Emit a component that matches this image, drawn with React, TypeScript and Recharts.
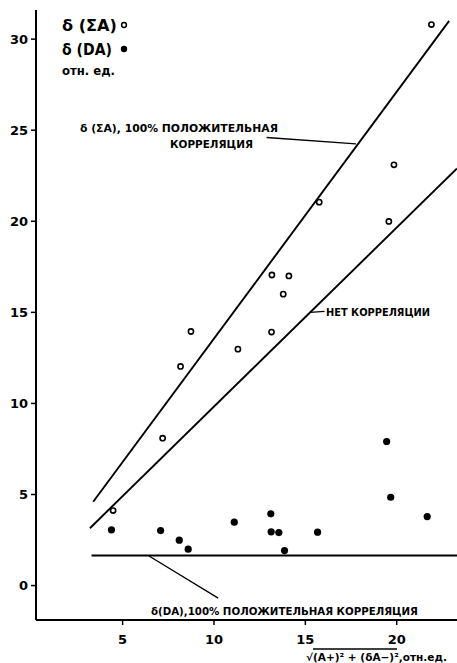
import { ComposedChart, Scatter, XAxis, YAxis, ReferenceLine } from 'recharts';

// δ(ΣA), hollow points
const sumA = [
  { x: 4.48, y: 4.12 },
  { x: 7.19, y: 8.09 },
  { x: 8.17, y: 12.03 },
  { x: 8.74, y: 13.95 },
  { x: 11.31, y: 12.98 },
  { x: 13.15, y: 13.92 },
  { x: 13.17, y: 17.05 },
  { x: 13.79, y: 16.0 },
  { x: 14.1, y: 17.0 },
  { x: 15.76, y: 21.05 },
  { x: 19.57, y: 19.99 },
  { x: 19.85, y: 23.1 },
  { x: 21.9, y: 30.8 },
];

// δ(DA), filled points
const dA = [
  { x: 4.39, y: 3.06 },
  { x: 7.08, y: 3.02 },
  { x: 8.1, y: 2.49 },
  { x: 8.59, y: 2.0 },
  { x: 11.11, y: 3.48 },
  { x: 13.11, y: 3.94 },
  { x: 13.13, y: 2.95 },
  { x: 13.55, y: 2.91 },
  { x: 13.86, y: 1.92 },
  { x: 15.67, y: 2.93 },
  { x: 19.45, y: 7.91 },
  { x: 19.67, y: 4.85 },
  { x: 21.67, y: 3.79 },
];

// reference lines
const sumAFullCorr = [{ x: 3.39, y: 4.6 }, { x: 22.87, y: 31.0 }];
const noCorr = [{ x: 3.21, y: 3.15 }, { x: 23.3, y: 22.9 }];
const dAFullCorr = [{ x: 3.3, y: 1.65 }, { x: 23.3, y: 1.65 }];

// leaders from labels to lines
const sumALeader = [{ x: 12.88, y: 24.6 }, { x: 17.77, y: 24.25 }];
const noCorrLeader = [{ x: 15.25, y: 15.0 }, { x: 16.05, y: 15.05 }];
const dALeader = [{ x: 6.4, y: 1.65 }, { x: 10.23, y: -0.69 }];

const xTicks = [5, 10, 15, 20];
const yTicks = [0, 5, 10, 15, 20, 25, 30];

const font = 'DejaVu Sans, sans-serif';

const Hollow = (props: any) => (
  <circle cx={props.cx} cy={props.cy} r={2.6} fill="#fff" stroke="#000" strokeWidth={1.6} />
);
const Filled = (props: any) => <circle cx={props.cx} cy={props.cy} r={3.6} fill="#000" />;

export default function App() {
  const tick = { fontSize: 13, fontFamily: font, fontWeight: 700, fill: '#000' };
  const lbl = { fontFamily: font, fontWeight: 700, fill: '#000' };

  return (
    <div style={{ position: 'absolute', left: 0, top: 0, width: 457, height: 663, background: '#fff' }}>
      <ComposedChart width={457} height={663} margin={{ top: 10, right: 0, bottom: 0, left: 0 }}>
        <XAxis
          type="number"
          dataKey="x"
          domain={[0.26, 23.3]}
          allowDataOverflow
          ticks={xTicks}
          height={43}
          tickSize={5}
          tickMargin={10}
          tick={tick}
          axisLine={{ stroke: '#000', strokeWidth: 2 }}
          tickLine={{ stroke: '#000', strokeWidth: 1.5 }}
        />
        <YAxis
          type="number"
          dataKey="y"
          domain={[-1.89, 31.6]}
          allowDataOverflow
          ticks={yTicks}
          width={36}
          tickSize={5}
          tickMargin={3}
          tick={tick}
          axisLine={{ stroke: '#000', strokeWidth: 2 }}
          tickLine={{ stroke: '#000', strokeWidth: 1.5 }}
        />
        <ReferenceLine segment={sumAFullCorr} stroke="#000" strokeWidth={1.9} ifOverflow="visible" />
        <ReferenceLine segment={noCorr} stroke="#000" strokeWidth={1.9} ifOverflow="visible" />
        <ReferenceLine segment={dAFullCorr} stroke="#000" strokeWidth={1.9} ifOverflow="visible" />
        <ReferenceLine segment={sumALeader} stroke="#000" strokeWidth={1.3} ifOverflow="visible" />
        <ReferenceLine segment={noCorrLeader} stroke="#000" strokeWidth={1.3} ifOverflow="visible" />
        <ReferenceLine segment={dALeader} stroke="#000" strokeWidth={1.3} ifOverflow="visible" />
        <Scatter data={sumA} shape={Hollow} isAnimationActive={false} />
        <Scatter data={dA} shape={Filled} isAnimationActive={false} />
      </ComposedChart>
      <svg width={457} height={663} style={{ position: 'absolute', left: 0, top: 0, pointerEvents: 'none' }}>
        {/* legend */}
        <text x={62} y={31} fontSize={15} {...lbl} textLength={55} lengthAdjust="spacingAndGlyphs">δ (ΣA)</text>
        <circle cx={124} cy={25} r={2.4} fill="#fff" stroke="#000" strokeWidth={1.5} />
        <text x={62} y={55} fontSize={15} {...lbl} textLength={50} lengthAdjust="spacingAndGlyphs">δ (DA)</text>
        <circle cx={124} cy={49} r={3.2} fill="#000" />
        <text x={62} y={75} fontSize={12} {...lbl} textLength={53} lengthAdjust="spacingAndGlyphs">отн. ед.</text>
        {/* annotations */}
        <text x={80} y={132} fontSize={10} {...lbl} textLength={198} lengthAdjust="spacingAndGlyphs">δ (ΣA), 100% ПОЛОЖИТЕЛЬНАЯ</text>
        <text x={170} y={148} fontSize={10} {...lbl} textLength={83} lengthAdjust="spacingAndGlyphs">КОРРЕЛЯЦИЯ</text>
        <text x={326} y={315.5} fontSize={10} {...lbl} textLength={104} lengthAdjust="spacingAndGlyphs">НЕТ КОРРЕЛЯЦИИ</text>
        <text x={151} y={614.5} fontSize={10} {...lbl} textLength={267} lengthAdjust="spacingAndGlyphs">δ(DA),100% ПОЛОЖИТЕЛЬНАЯ КОРРЕЛЯЦИЯ</text>
        {/* x axis title */}
        <line x1={313} y1={649} x2={397} y2={649} stroke="#000" strokeWidth={1.3} />
        <text x={306} y={661} fontSize={10} {...lbl} textLength={141} lengthAdjust="spacingAndGlyphs">√(A+)² + (δA−)²,отн.ед.</text>
      </svg>
    </div>
  );
}
